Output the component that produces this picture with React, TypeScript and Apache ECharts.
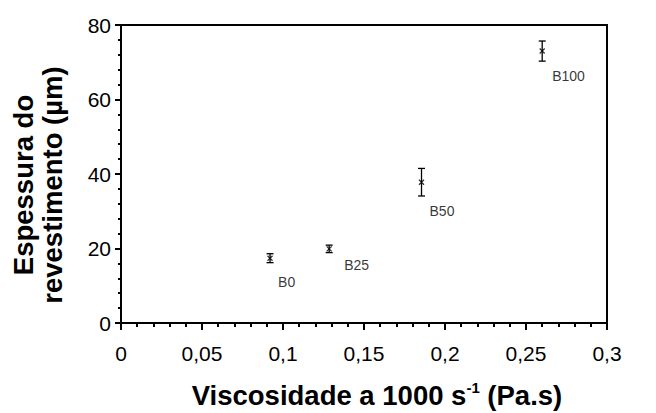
import React, { useEffect, useRef } from 'react';
import * as echarts from 'echarts';

// Data
const sampleNames = ['B0', 'B25', 'B50', 'B100'];
const viscosity = [0.092, 0.1285, 0.1855, 0.26]; // Pa.s at 1000 s^-1
const thickness = [17.4, 19.9, 37.8, 73.0]; // µm
const thicknessError = [1.2, 1.0, 3.7, 2.7]; // µm
const xTickStep = 0.05;
const yTickStep = 20;

// label placement (layout, not data)
const labelOffsets = [
  [8, 24],
  [15, 16],
  [8, 29],
  [10, 25],
];

const FONT = "'Liberation Sans', Arial, Helvetica, sans-serif";

export default function App() {
  const ref = useRef<HTMLDivElement>(null);
  useEffect(() => {
    if (!ref.current) return;
    const chart = echarts.init(ref.current, null, { renderer: 'svg' });
    const errData = viscosity.map((v, i) => [v, thickness[i] - thicknessError[i], thickness[i] + thicknessError[i]]);
    const pts = viscosity.map((v, i) => ({
      value: [v, thickness[i]],
      name: sampleNames[i],
      label: { offset: labelOffsets[i] },
    }));
    chart.setOption({
      animation: false,
      textStyle: { fontFamily: FONT, color: '#000' },
      grid: {
        left: 121,
        right: 49,
        top: 25,
        bottom: 90,
        containLabel: false,
        outerBoundsMode: 'none',
        show: true,
        borderColor: '#000',
        borderWidth: 2,
        backgroundColor: 'transparent',
      },
      xAxis: {
        type: 'value',
        min: 0,
        max: 0.3,
        interval: xTickStep,
        name: 'Viscosidade a 1000 s{sup|-1} (Pa.s)',
        nameLocation: 'middle',
        nameGap: 57,
        nameTextStyle: {
          fontFamily: FONT,
          fontSize: 27.5,
          fontWeight: 'bold',
          color: '#000',
          lineHeight: 30,
          padding: [0, 0, 0, 26],
          rich: {
            sup: { fontFamily: FONT, fontSize: 15, fontWeight: 'bold', color: '#000', verticalAlign: 'top', lineHeight: 17, padding: [0, 0, 11, 0] },
          },
        },
        axisLine: { lineStyle: { color: '#000', width: 2 } },
        axisTick: { show: true, length: 7, lineStyle: { color: '#000', width: 2 } },
        minorTick: { show: true, splitNumber: 5, length: 4, lineStyle: { color: '#000', width: 2 } },
        splitLine: { show: false },
        minorSplitLine: { show: false },
        axisLabel: {
          fontFamily: FONT,
          fontSize: 21,
          color: '#000',
          margin: 20,
          formatter: (v: number) => String(Math.round(v * 100) / 100).replace('.', ','),
        },
      },
      yAxis: {
        type: 'value',
        min: 0,
        max: 80,
        interval: yTickStep,
        name: 'Espessura do\nrevestimento (µm)',
        nameLocation: 'middle',
        nameGap: 54,
        nameTextStyle: {
          fontFamily: FONT,
          fontSize: 27.5,
          fontWeight: 'bold',
          color: '#000',
          lineHeight: 29,
          padding: [0, 22, 0, 0],
        },
        axisLine: { lineStyle: { color: '#000', width: 2 } },
        axisTick: { show: true, length: 6, lineStyle: { color: '#000', width: 2 } },
        minorTick: { show: true, splitNumber: 5, length: 3, lineStyle: { color: '#000', width: 2 } },
        splitLine: { show: false },
        minorSplitLine: { show: false },
        axisLabel: {
          fontFamily: FONT,
          fontSize: 21,
          color: '#000',
          margin: 10,
        },
      },
      series: [
        {
          type: 'custom',
          data: errData,
          silent: true,
          renderItem: (params: any, api: any) => {
            const x = api.value(0);
            const lo = api.coord([x, api.value(1)]);
            const hi = api.coord([x, api.value(2)]);
            const cap = 3.5;
            const style = { stroke: '#000', lineWidth: 1.3 };
            return {
              type: 'group',
              children: [
                { type: 'line', shape: { x1: lo[0], y1: lo[1], x2: hi[0], y2: hi[1] }, style },
                { type: 'line', shape: { x1: hi[0] - cap, y1: hi[1], x2: hi[0] + cap, y2: hi[1] }, style },
                { type: 'line', shape: { x1: lo[0] - cap, y1: lo[1], x2: lo[0] + cap, y2: lo[1] }, style },
              ],
            };
          },
        },
        {
          type: 'scatter',
          data: pts,
          symbol: 'path://M0,0L8,8M8,0L0,8',
          symbolSize: 5,
          itemStyle: { color: 'none', borderColor: '#000', borderWidth: 1.3 },
          label: {
            show: true,
            position: 'inside',
            align: 'left',
            verticalAlign: 'middle',
            fontFamily: FONT,
            fontSize: 14,
            color: '#000',
            formatter: (p: any) => p.name,
          },
        },
      ],
    });
    return () => chart.dispose();
  }, []);
  return <div ref={ref} style={{ position: 'absolute', left: 0, top: 0, width: 656, height: 413 }} />;
}
